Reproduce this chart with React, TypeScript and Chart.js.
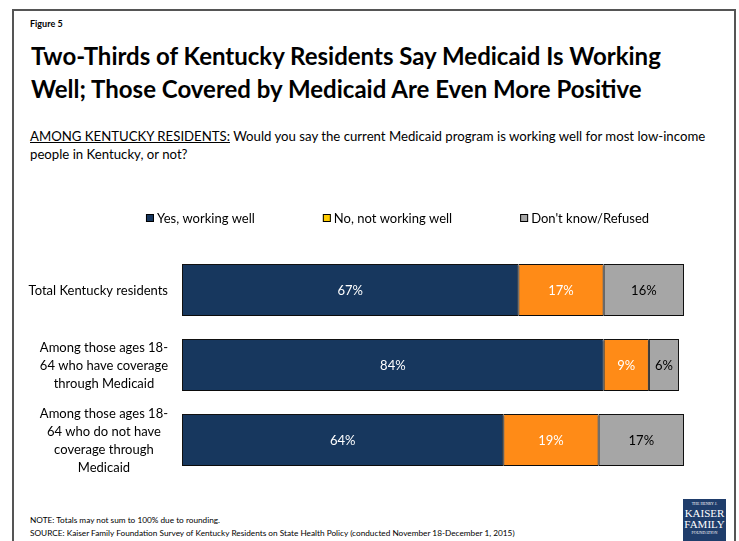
import React, { useEffect, useRef } from "react";
import { Chart, registerables } from "chart.js";

Chart.register(...registerables);

const categories: (string | string[])[] = [
  "Total Kentucky residents",
  ["Among those ages 18-", "64 who have coverage", "through Medicaid"],
  ["Among those ages 18-", "64 who do not have", "coverage through", "Medicaid"],
];
const seriesNames = ["Yes, working well", "No, not working well", "Don't know/Refused"];
const yesValues = [67, 84, 64];
const noValues = [17, 9, 19];
const dkValues = [16, 6, 17];
const barColors = ["#17375E", "#FF8B17", "#A6A6A6"];
const legendColors = ["#17375E", "#FFCC00", "#A6A6A6"];
const labelColors = ["#FFFFFF", "#FFFFFF", "#000000"];

const FONT = "Lato, 'Liberation Sans', sans-serif";

const legendPlugin = {
  id: "customLegend",
  afterDraw(chart: any) {
    const ctx = chart.ctx;
    ctx.save();
    ctx.font = `13px ${FONT}`;
    ctx.textBaseline = "middle";
    const box = 8;
    const gapText = 3;
    const gapItem = 68;
    const widths = seriesNames.map((n) => box + gapText + ctx.measureText(n).width);
    const total = widths.reduce((a, b) => a + b, 0) + gapItem * (seriesNames.length - 1);
    let x = 397.5 - total / 2;
    const y = 23;
    seriesNames.forEach((n, i) => {
      ctx.fillStyle = legendColors[i];
      ctx.fillRect(x, y - box / 2, box, box);
      ctx.strokeStyle = "#000";
      ctx.lineWidth = 1;
      ctx.strokeRect(x + 0.5, y - box / 2 + 0.5, box - 1, box - 1);
      ctx.fillStyle = "#000";
      ctx.textAlign = "left";
      ctx.fillText(n, x + box + gapText, y + 1);
      x += widths[i] + gapItem;
    });
    ctx.restore();
  },
};

// Category labels: each label block right-aligned to the axis, lines centred within the block
const categoryLabelPlugin = {
  id: "categoryLabels",
  afterDraw(chart: any) {
    const ctx = chart.ctx;
    const yScale = chart.scales.y;
    const lineH = 18;
    const pad = 14;
    ctx.save();
    ctx.font = `13px ${FONT}`;
    ctx.fillStyle = "#000";
    ctx.textAlign = "center";
    ctx.textBaseline = "middle";
    chart.data.labels.forEach((lab: any, i: number) => {
      const lines: string[] = Array.isArray(lab) ? lab : [lab];
      const widest = Math.max(...lines.map((l) => ctx.measureText(l).width));
      const cx = yScale.right - pad - widest / 2;
      const cy = yScale.getPixelForTick(i);
      const y0 = cy - ((lines.length - 1) * lineH) / 2;
      lines.forEach((l, k) => ctx.fillText(l, cx, y0 + k * lineH + 1));
    });
    ctx.restore();
  },
};

const valueLabelPlugin = {
  id: "valueLabels",
  afterDatasetsDraw(chart: any) {
    const ctx = chart.ctx;
    ctx.save();
    ctx.font = `13px ${FONT}`;
    ctx.textAlign = "center";
    ctx.textBaseline = "middle";
    chart.data.datasets.forEach((ds: any, di: number) => {
      const meta = chart.getDatasetMeta(di);
      meta.data.forEach((bar: any, i: number) => {
        const p = bar.getProps(["x", "y", "base"], true);
        ctx.fillStyle = labelColors[di];
        ctx.fillText(`${ds.data[i]}%`, (p.x + p.base) / 2, p.y + 1);
      });
    });
    ctx.restore();
  },
};

const shadowPlugin = {
  id: "barShadow",
  beforeDatasetsDraw(chart: any) {
    const ctx = chart.ctx;
    ctx.save();
    ctx.shadowColor = "rgba(0,0,0,0.35)";
    ctx.shadowOffsetY = 2;
    ctx.shadowBlur = 1;
  },
  afterDatasetsDraw(chart: any) {
    chart.ctx.restore();
  },
};

function BarChart() {
  const ref = useRef<HTMLCanvasElement>(null);
  useEffect(() => {
    if (!ref.current) return;
    const chart = new Chart(ref.current, {
      type: "bar",
      data: {
        labels: categories as any,
        datasets: [yesValues, noValues, dkValues].map((d, i) => ({
          label: seriesNames[i],
          data: d,
          backgroundColor: barColors[i],
          borderColor: "#111111",
          borderWidth: 1,
          borderSkipped: false,
          barPercentage: 0.693,
          categoryPercentage: 1,
        })),
      },
      options: {
        indexAxis: "y",
        animation: false,
        responsive: false,
        maintainAspectRatio: false,
        layout: { padding: { top: 57.5, bottom: 17.5, left: 0, right: 55 } },
        plugins: {
          legend: { display: false },
          tooltip: { enabled: false },
          title: { display: false },
        },
        scales: {
          x: {
            stacked: true,
            min: 0,
            max: 100,
            display: false,
          },
          y: {
            stacked: true,
            grid: { display: false, drawTicks: false },
            border: { display: false },
            ticks: { display: false, autoSkip: false },
            afterFit: (scale: any) => {
              scale.width = 182;
              scale.paddingTop = 0;
              scale.paddingBottom = 0;
            },
          },
        },
      },
      plugins: [shadowPlugin, valueLabelPlugin, categoryLabelPlugin, legendPlugin],
    });
    return () => chart.destroy();
  }, []);
  return (
    <canvas
      ref={ref}
      width={739}
      height={300}
      style={{ position: "absolute", left: 0, top: 195, width: 739, height: 300 }}
    />
  );
}

export default function App() {
  return (
    <div
      style={{
        position: "absolute",
        left: 0,
        top: 0,
        width: 739,
        height: 541,
        background: "#fff",
        overflow: "hidden",
        fontFamily: FONT,
        color: "#000",
      }}
    >
      <div
        style={{
          position: "absolute",
          left: 12,
          top: 9,
          width: 724,
          height: 600,
          border: "2px solid #555",
          boxSizing: "border-box",
        }}
      />
      <div style={{ position: "absolute", left: 30, top: 18, fontSize: 9, fontWeight: 700 }}>Figure 5</div>
      <div
        style={{
          position: "absolute",
          left: 31,
          top: 39,
          fontSize: 24,
          lineHeight: "33px",
          fontWeight: 700,
          whiteSpace: "nowrap",
        }}
      >
        Two-Thirds of Kentucky Residents Say Medicaid Is Working
        <br />
        Well; Those Covered by Medicaid Are Even More Positive
      </div>
      <div
        style={{
          position: "absolute",
          left: 30,
          top: 127,
          fontSize: 13.2,
          lineHeight: "18px",
          whiteSpace: "nowrap",
        }}
      >
        <span style={{ textDecoration: "underline" }}>AMONG KENTUCKY RESIDENTS:</span> Would you say the current
        Medicaid program is working well for most low-income
        <br />
        people in Kentucky, or not?
      </div>
      <BarChart />
      <div
        style={{
          position: "absolute",
          left: 30,
          top: 514,
          fontSize: 8.25,
          lineHeight: "13px",
          whiteSpace: "nowrap",
        }}
      >
        NOTE: Totals may not sum to 100% due to rounding.
        <br />
        SOURCE: Kaiser Family Foundation Survey of Kentucky Residents on State Health Policy (conducted November
        18-December 1, 2015)
      </div>
      <div
        style={{
          position: "absolute",
          left: 683,
          top: 499,
          width: 43,
          height: 50,
          background: "#1F3D6B",
          color: "#fff",
          fontFamily: "'Liberation Serif', serif",
          textAlign: "center",
          lineHeight: 1,
        }}
      >
        <div style={{ fontSize: 4, paddingTop: 3 }}>THE HENRY J.</div>
        <div style={{ fontSize: 11, marginTop: 2 }}>KAISER</div>
        <div style={{ fontSize: 11 }}>FAMILY</div>
        <div style={{ fontSize: 4, marginTop: 1 }}>FOUNDATION</div>
      </div>
    </div>
  );
}
